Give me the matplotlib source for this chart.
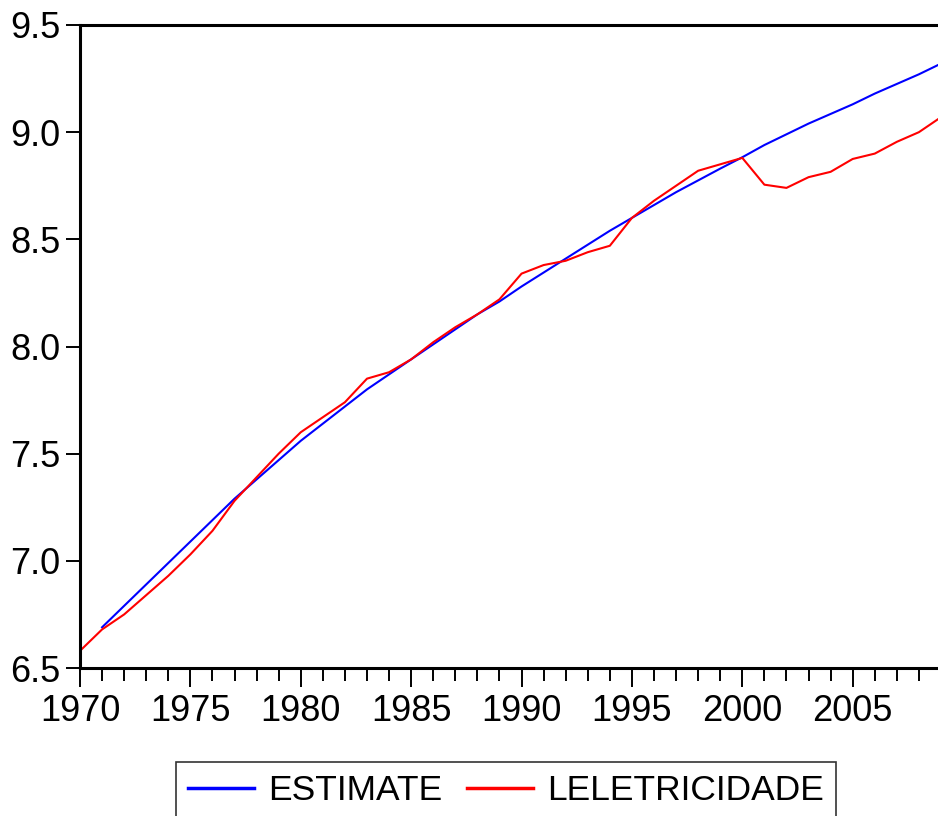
import matplotlib
matplotlib.use("Agg")
import matplotlib.pyplot as plt
from matplotlib.ticker import MultipleLocator

plt.rcParams['font.family'] = ['Liberation Sans', 'DejaVu Sans']

years_red = list(range(1970, 2010))
leletricidade = [6.58, 6.68, 6.75, 6.84, 6.93, 7.03, 7.14, 7.28, 7.39, 7.50,
                 7.60, 7.67, 7.74, 7.85, 7.88, 7.94, 8.02, 8.09, 8.15, 8.22,
                 8.34, 8.38, 8.40, 8.44, 8.47, 8.60, 8.68, 8.75, 8.82, 8.85,
                 8.88, 8.755, 8.74, 8.79, 8.815, 8.875, 8.90, 8.955, 9.00, 9.07]

years_est = list(range(1971, 2010))
estimate = [6.69, 6.79, 6.89, 6.99, 7.09, 7.19, 7.29, 7.38, 7.47,
            7.56, 7.64, 7.72, 7.80, 7.87, 7.94, 8.01, 8.08, 8.15, 8.21,
            8.28, 8.345, 8.41, 8.475, 8.54, 8.60, 8.66, 8.72, 8.775, 8.83,
            8.883, 8.94, 8.99, 9.04, 9.085, 9.13, 9.18, 9.225, 9.27, 9.32]

W, H = 938, 816
fig = plt.figure(figsize=(W / 100, H / 100), dpi=100)
ax = fig.add_axes([80 / W, (H - 668) / H, (941 - 80) / W, (668 - 25) / H])

ax.plot(years_est, estimate, color='#0000ff', lw=1.5, label='ESTIMATE')
ax.plot(years_red, leletricidade, color='#ff0000', lw=1.5, label='LELETRICIDADE')

ax.set_xlim(1970, 2009)
ax.set_ylim(6.5, 9.5)
ax.xaxis.set_major_locator(MultipleLocator(5))
ax.xaxis.set_minor_locator(MultipleLocator(1))
ax.yaxis.set_major_locator(MultipleLocator(0.5))
ax.yaxis.set_major_formatter(matplotlib.ticker.FormatStrFormatter('%.1f'))

for s in ['left', 'bottom', 'top']:
    ax.spines[s].set_linewidth(2.2)
ax.spines['right'].set_visible(False)

ax.tick_params(axis='both', which='major', direction='out', labelsize=26,
               width=1.4, color='black')
ax.tick_params(axis='y', which='major', length=10, pad=4)
ax.tick_params(axis='x', which='major', length=14, pad=5)
ax.tick_params(axis='x', which='minor', length=9, width=1.4, direction='out')

leg = fig.legend(loc='upper left', bbox_to_anchor=(176 / W, 1 - 762 / H),
                 ncol=2, fontsize=25.5, frameon=True, fancybox=False,
                 edgecolor='black', handlelength=1.85, handletextpad=0.4,
                 columnspacing=0.7, borderpad=0.35, borderaxespad=0)
leg.get_frame().set_linewidth(1.2)
for line in leg.get_lines():
    line.set_linewidth(2.5)

fig.savefig('out.png', dpi=100)
